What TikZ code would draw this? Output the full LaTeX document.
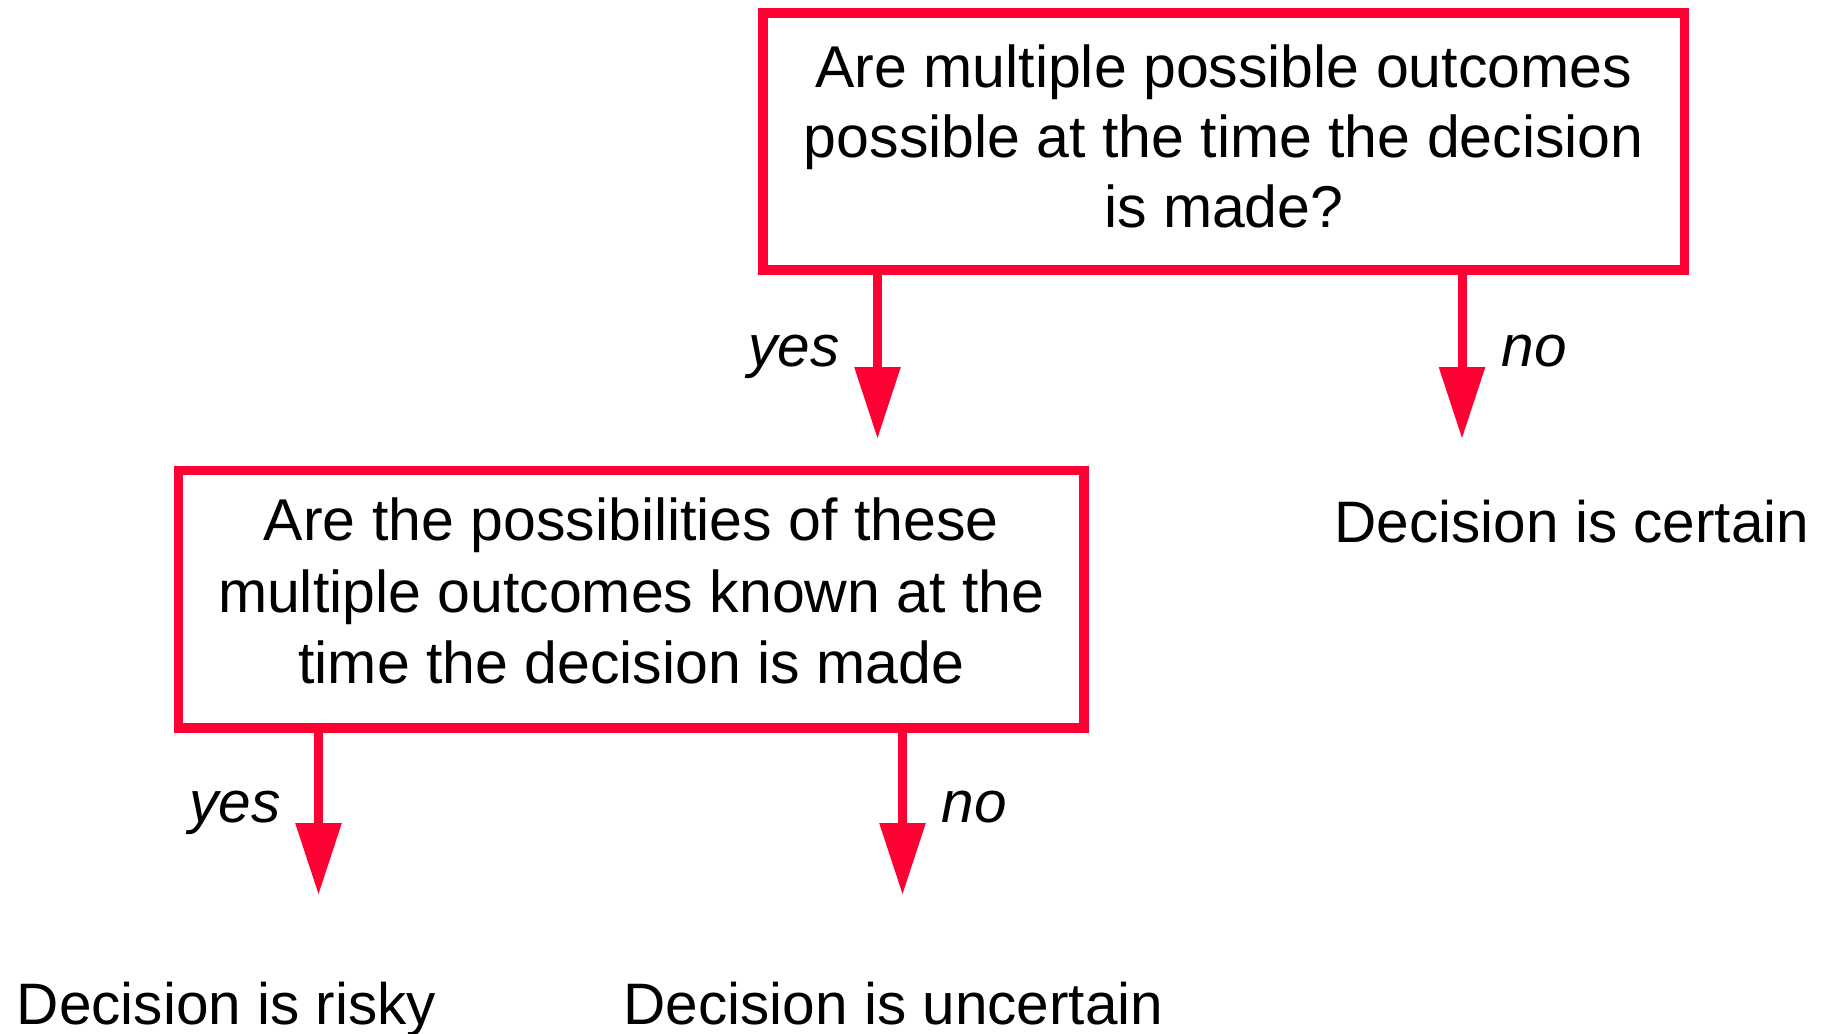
\documentclass[tikz,border=0pt]{standalone}
\usepackage{fontspec}
\setmainfont{Liberation Sans}
\usetikzlibrary{arrows.meta}
\definecolor{flowred}{RGB}{255,0,51}
\begin{document}
\begin{tikzpicture}[x=1pt,y=-1pt,
  qbox/.style={draw=flowred, line width=9.5pt, outer sep=0pt, inner sep=0pt, align=center},
  arr/.style={draw=flowred, line width=9pt, -{Triangle[length=72pt,width=44pt]}, color=flowred},
  lbl/.style={inner sep=0pt, anchor=base, font=\fontsize{58.5}{70}\selectfont\itshape},
  res/.style={inner sep=0pt, anchor=base, font=\fontsize{58.5}{70}\selectfont}]
\useasboundingbox (0,0) rectangle (1822,1033);
% question boxes
\node[qbox, minimum width=921.5pt, minimum height=257pt, font=\fontsize{59}{70}\selectfont] (q1) at (1223.75,141.5)
  {Are multiple possible outcomes\\possible at the time the decision\\is made?\rule[-11.3pt]{0pt}{0pt}};
\node[qbox, minimum width=905.5pt, minimum height=257.5pt, font=\fontsize{59}{71.5}\selectfont] (q2) at (631.25,599.25)
  {Are the possibilities of these\\multiple outcomes known at the\\time the decision is made\rule[-16.5pt]{0pt}{0pt}};
% arrow tips
\coordinate (t1) at (877.5,439);
\coordinate (t2) at (1462,439);
\coordinate (t3) at (318.5,895);
\coordinate (t4) at (902.5,895);
\draw[arr] (q1.south -| t1) -- (t1);
\draw[arr] (q1.south -| t2) -- (t2);
\draw[arr] (q2.south -| t3) -- (t3);
\draw[arr] (q2.south -| t4) -- (t4);
% labels
\node[lbl] (y1) at (794,366) {yes};
\node[lbl] (n1) at (1534,366) {no};
\node[lbl] (y2) at (235,822) {yes};
\node[lbl] (n2) at (974,822) {no};
% results
\node[res] (r1) at (1572,542) {Decision is certain};
\node[res] (r2) at (226.5,1024) {Decision is risky};
\node[res] (r3) at (893.5,1024) {Decision is uncertain};
\end{tikzpicture}
\end{document}
